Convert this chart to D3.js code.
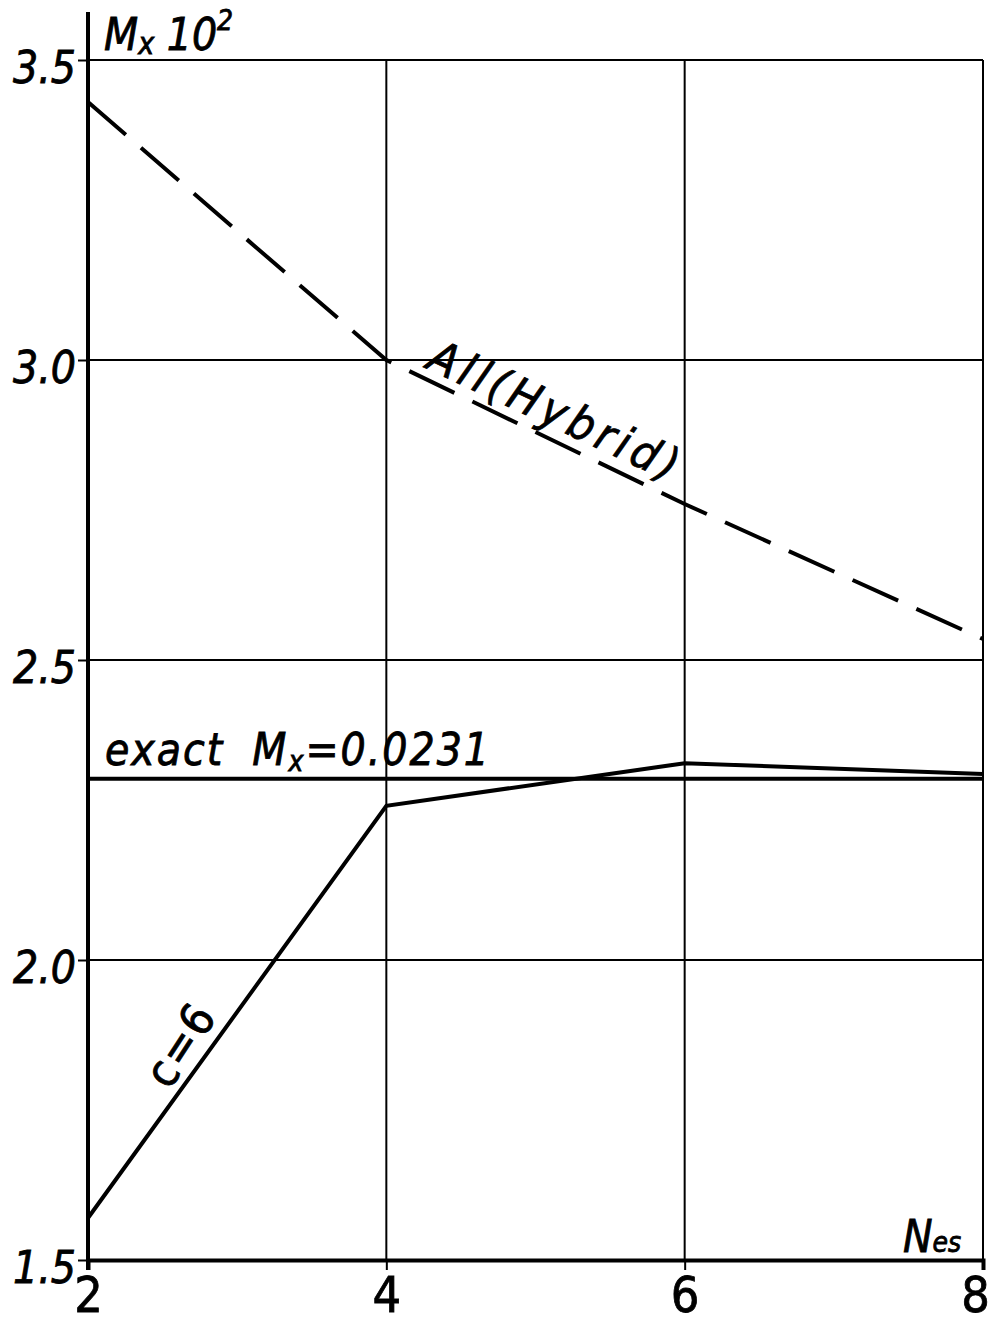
<!DOCTYPE html>
<html>
<head>
<meta charset="utf-8">
<script src="https://cdn.jsdelivr.net/npm/d3@7/dist/d3.min.js"></script>
<style>
  body { margin: 0; background: #fff; }
  text { font-family: "DejaVu Sans Condensed", "DejaVu Sans", sans-serif; fill: #000; stroke: #000; stroke-width: 0.8px; }
</style>
</head>
<body>
<div id="chart"></div>
<script>
// N_es values
const nes = [2, 4, 6, 8];
// Mx * 10^2
const hybridValues = [3.43, 3.0, 2.76, 2.535];
const c6Values = [1.57, 2.257, 2.328, 2.31];
const exactValue = 2.302;
const xTicks = [2, 4, 6, 8];
const yTicks = [1.5, 2.0, 2.5, 3.0, 3.5];

const width = 996;
const height = 1323;
const margin = { left: 88, right: 13, top: 60, bottom: 63 };

const svg = d3.select("#chart")
              .append("svg")
              .attr("width", width)
              .attr("height", height);

const x = d3.scaleLinear()
            .domain([2, 8])
            .range([margin.left, width - margin.right]);

const y = d3.scaleLinear()
            .domain([1.5, 3.5])
            .range([height - margin.bottom, margin.top]);

// grid
svg.append("g")
   .selectAll("line")
   .data(yTicks.slice(1))
   .enter()
   .append("line")
   .attr("x1", x(2))
   .attr("x2", x(8))
   .attr("y1", d => y(d))
   .attr("y2", d => y(d))
   .attr("stroke", "#000")
   .attr("stroke-width", 2);

svg.append("g")
   .selectAll("line")
   .data(xTicks.slice(1))
   .enter()
   .append("line")
   .attr("x1", d => x(d))
   .attr("x2", d => x(d))
   .attr("y1", y(3.5))
   .attr("y2", y(1.5))
   .attr("stroke", "#000")
   .attr("stroke-width", 2);

// axes
const xAxis = svg.append("g")
   .attr("transform", `translate(0, ${y(1.5)})`)
   .call(d3.axisBottom(x).tickValues(xTicks).tickSize(10).tickFormat(d3.format("d")));

const yAxis = svg.append("g")
   .attr("transform", `translate(${x(2)}, 0)`)
   .call(d3.axisLeft(y).tickValues(yTicks).tickSize(10).tickFormat(d3.format(".1f")));

xAxis.select(".domain").attr("stroke-width", 4);
xAxis.selectAll(".tick line").attr("stroke-width", 2);
xAxis.selectAll(".tick text")
     .attr("font-size", 50)
     .attr("dy", "0.71em")
     .attr("y", 16)
     .attr("x", d => d === 8 ? -8 : 0);

yAxis.select(".domain").remove();
yAxis.append("line")
     .attr("x1", 0).attr("x2", 0)
     .attr("y1", 12).attr("y2", y(1.5) + 10)
     .attr("stroke", "#000")
     .attr("stroke-width", 4);
yAxis.selectAll(".tick line").attr("stroke-width", 2);
yAxis.selectAll(".tick text")
     .attr("font-size", 44)
     .attr("font-style", "italic")
     .attr("x", -12)
     .attr("dy", "0.5em");

// exact line
svg.append("line")
   .attr("x1", x(2))
   .attr("x2", x(8))
   .attr("y1", y(exactValue))
   .attr("y2", y(exactValue))
   .attr("stroke", "#000")
   .attr("stroke-width", 4);

const line = d3.line()
               .x((d, i) => x(nes[i]))
               .y(d => y(d));

svg.append("path")
   .datum(hybridValues)
   .attr("d", line)
   .attr("fill", "none")
   .attr("stroke", "#000")
   .attr("stroke-width", 4)
   .attr("stroke-dasharray", "50,20");

svg.append("path")
   .datum(c6Values)
   .attr("d", line)
   .attr("fill", "none")
   .attr("stroke", "#000")
   .attr("stroke-width", 4)
   .attr("stroke-linejoin", "miter");

// labels
const yLabel = svg.append("text")
   .attr("x", x(2) + 16)
   .attr("y", 50)
   .attr("font-size", 44)
   .attr("font-style", "italic");
yLabel.append("tspan").text("M");
yLabel.append("tspan").text("x").attr("font-size", 30).attr("dy", 4);
yLabel.append("tspan").text(" 10").attr("dy", -4);
yLabel.append("tspan").text("2").attr("font-size", 28).attr("dy", -20);

const xLabel = svg.append("text")
   .attr("x", x(8) - 80)
   .attr("y", y(1.5) - 8)
   .attr("font-size", 44)
   .attr("font-style", "italic");
xLabel.append("tspan").text("N");
xLabel.append("tspan").text("es").attr("font-size", 28);

const exLabel = svg.append("text")
   .attr("x", x(2) + 17)
   .attr("y", y(exactValue) - 14)
   .attr("font-size", 44)
   .attr("font-style", "italic")
   .attr("letter-spacing", 2);
exLabel.append("tspan").text("exact");
exLabel.append("tspan").text("M").attr("dx", 28);
exLabel.append("tspan").text("x").attr("font-size", 28).attr("dy", 6);
exLabel.append("tspan").text("=0.0231").attr("dy", -6);

const hx = (x(4) + x(6)) / 2 + 14;
const hy = y((hybridValues[1] + hybridValues[2]) / 2) - 6;
svg.append("text")
   .attr("transform", `translate(${hx}, ${hy}) rotate(25)`)
   .attr("text-anchor", "middle")
   .attr("font-size", 46)
   .attr("font-style", "italic")
   .attr("letter-spacing", 5)
   .text("All(Hybrid)");

const cx = x(2.75) - 6;
const cy = y(1.57 + (2.257 - 1.57) * 0.375) - 10;
svg.append("text")
   .attr("transform", `translate(${cx}, ${cy}) rotate(-57)`)
   .attr("text-anchor", "middle")
   .attr("font-size", 46)
   .attr("letter-spacing", 2)
   .text("c=6");
</script>
</body>
</html>
